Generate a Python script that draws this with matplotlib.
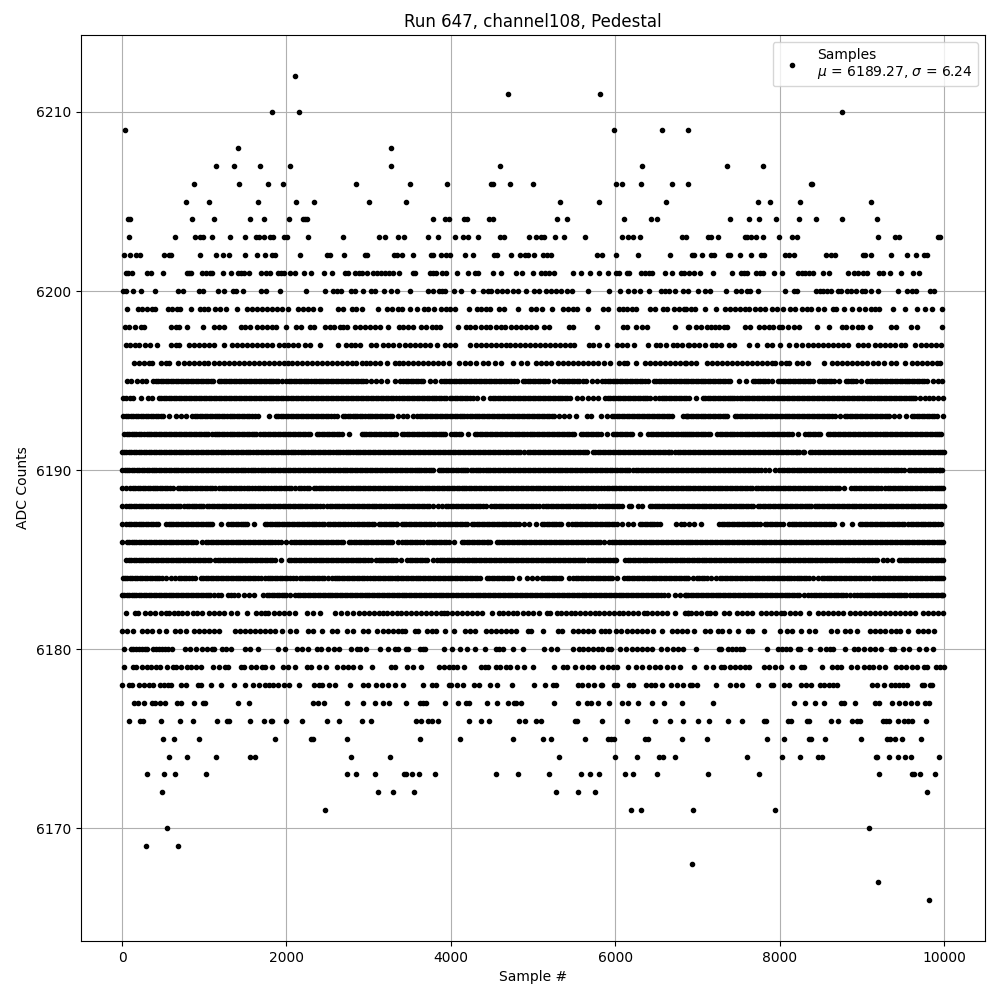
import matplotlib
matplotlib.use("Agg")
import matplotlib.pyplot as plt
import numpy as np

# sample numbers, one list per ADC level
adc_6212 = [2109]
adc_6211 = [4694, 5809]
adc_6210 = [1830, 2157, 8755]
adc_6209 = [36, 5979, 6573, 6888]
adc_6208 = [1406, 3272]
adc_6207 = [1139, 1357, 1673, 2048, 3272, 4597, 6330, 7361, 7797]
adc_6206 = [873, 1418, 1770, 1963, 2848, 3506, 3955, 4488, 4512, 4718, 4997, 6015, 6088, 6318, 6694, 6888, 8379, 8391]
adc_6205 = [776, 1054, 1648, 2121, 2339, 3006, 3458, 5324, 5797, 6621, 7737, 7882, 8246, 9118]
adc_6204 = [77, 101, 848, 1115, 1551, 1721, 2036, 2206, 2230, 2254, 3785, 3930, 3979, 4161, 4197, 4464, 4512, 5288, 5409,
            6112, 6439, 6512, 7397, 7627, 7749, 7955, 8233, 8439, 8755, 9179]
adc_6203 = [85, 642, 885, 945, 982, 1091, 1309, 1491, 1624, 1660, 1721, 1794, 1842, 1976, 2012, 2266, 2691, 3127, 3200, 3353,
            3429, 3724, 3846, 4052, 4149, 4209, 4330, 4597, 4646, 4949, 5033, 5094, 5130, 5264, 5373, 5627, 6088, 6160, 6221, 6306,
            6815, 6863, 7131, 7167, 7252, 7579, 7603, 7652, 7712, 7797, 7991, 8149, 8209, 9203, 9409, 9458, 9930, 9955]
adc_6202 = [24, 97, 170, 218, 509, 570, 594, 945, 1139, 1224, 1297, 1491, 1636, 1733, 1818, 1866, 2169, 2497, 2533, 2703, 2957, 2982,
            3309, 3345, 3401, 3543, 3761, 3785, 3882, 3943, 3991, 4173, 4270, 4524, 4561, 4730, 4839, 4900, 4936, 5009, 5118, 5167, 5215,
            5773, 5845, 6015, 6282, 6670, 6937, 6961, 7058, 7167, 7203, 7373, 7397, 7518, 7652, 7773, 7809, 8064, 8112, 8173, 8561, 8621,
            8670, 9009, 9045, 9106, 9361, 9555, 9664, 9761, 9797]
adc_6201 = [48, 73, 121, 303, 351, 497, 788, 812, 836, 970, 1018, 1067, 1091, 1224, 1321, 1406, 1442, 1479, 1539, 1685, 1745, 1794,
            1891, 1939, 1976, 2048, 2109, 2218, 2303, 2460, 2557, 2715, 2751, 2836, 2885, 2921, 2982, 3054, 3103, 3151, 3200, 3248, 3297,
            3369, 3543, 3567, 3749, 3785, 3821, 3894, 3943, 4076, 4209, 4294, 4330, 4512, 4609, 4791, 4864, 4997, 5094, 5143, 5191, 5252,
            5482, 5579, 5688, 5797, 5906, 6015, 6051, 6148, 6173, 6318, 6367, 6415, 6451, 6609, 6694, 6795, 6840, 6900, 6961, 7034, 7191,
            7421, 7530, 7567, 7603, 7712, 7761, 7797, 7930, 8027, 8221, 8270, 8306, 8355, 8403, 8524, 8597, 8827, 8900, 8949, 9009, 9058,
            9215, 9252, 9348, 9482, 9627, 9700]
adc_6200 = [12, 48, 129, 230, 400, 679, 739, 933, 982, 1164, 1236, 1345, 1382, 1467, 1685, 1745, 1927, 2242, 2472, 2570, 2618, 2666,
            2788, 2836, 2933, 3030, 3078, 3184, 3272, 3345, 3506, 3724, 3785, 3858, 3894, 3930, 4040, 4124, 4270, 4391, 4452, 4488, 4561,
            4621, 4682, 4755, 4815, 4912, 5009, 5070, 5155, 5215, 5276, 5336, 5409, 5470, 5664, 5930, 6064, 6160, 6233, 6306, 6415, 6561,
            6609, 6657, 6730, 6827, 6888, 7009, 7094, 7155, 7349, 7470, 7530, 7603, 7640, 7737, 8064, 8173, 8209, 8439, 8488, 8524, 8573,
            8621, 8706, 8743, 8815, 8864, 8924, 8997, 9045, 9106, 9203, 9445, 9555, 9615, 9664, 9833, 9882]
adc_6199 = [57, 194, 246, 307, 368, 404, 558, 610, 671, 703, 844, 953, 1002, 1042, 1135, 1188, 1269, 1398, 1519, 1580, 1640, 1701, 1761,
            1822, 1883, 1943, 2024, 2145, 2206, 2266, 2327, 2408, 2622, 2691, 2792, 2852, 2921, 3115, 3224, 3285, 3357, 3401, 3502, 3583,
            3672, 3724, 3797, 3886, 3939, 3987, 4048, 4225, 4318, 4371, 4423, 4472, 4585, 4646, 4823, 4977, 5037, 5110, 5227, 5361, 5421,
            5482, 5534, 5664, 5853, 5918, 6048, 6096, 6148, 6201, 6249, 6419, 6484, 6585, 6625, 6714, 6775, 6835, 6856, 6916, 6965, 7098,
            7223, 7341, 7401, 7462, 7514, 7583, 7631, 7696, 7765, 7825, 7906, 7967, 8040, 8128, 8189, 8270, 8330, 8383, 8472, 8537, 8646,
            8686, 8783, 8876, 8961, 9045, 9106, 9159, 9207, 9385, 9522, 9676, 9773, 9858, 9979]
adc_6198 = [32, 85, 154, 226, 267, 590, 650, 691, 792, 986, 1123, 1176, 1236, 1446, 1499, 1559, 1640, 1701, 1761, 1822, 1871, 2000, 2113,
            2174, 2287, 2335, 2468, 2529, 2578, 2650, 2691, 2739, 2832, 2893, 2953, 3014, 3083, 3143, 3236, 3369, 3421, 3482, 3543, 3631,
            3696, 3765, 3825, 3866, 4088, 4181, 4237, 4290, 4371, 4423, 4480, 4553, 4613, 4654, 4734, 4795, 4856, 4916, 4977, 5037, 5138,
            5191, 5433, 5482, 5773, 6096, 6148, 6249, 6330, 6391, 6726, 6888, 6900, 6985, 7038, 7118, 7171, 7219, 7268, 7320, 7365, 7583,
            7644, 7745, 7805, 7866, 7914, 7987, 8027, 8108, 8169, 8237, 8456, 8597, 8763, 8807, 8884, 8949, 9005, 9098, 9353, 9421, 9595,
            9676, 9971]
adc_6197 = [49, 97, 158, 210, 279, 339, 428, 590, 650, 691, 812, 873, 933, 994, 1054, 1115, 1236, 1337, 1398, 1458, 1519, 1580, 1640,
            1701, 1761, 1822, 1911, 1972, 2024, 2085, 2145, 2226, 2287, 2408, 2630, 2723, 2780, 2832, 2893, 3034, 3095, 3175, 3236, 3297,
            3369, 3442, 3502, 3563, 3623, 3684, 3745, 3833, 3926, 3987, 4048, 4237, 4302, 4363, 4423, 4484, 4544, 4605, 4666, 4714, 4783,
            4843, 4908, 4965, 5029, 5090, 5150, 5211, 5272, 5332, 5393, 5449, 5502, 5684, 5732, 5805, 5894, 6027, 6088, 6148, 6229, 6403,
            6492, 6540, 6613, 6702, 6754, 6807, 6888, 6896, 6957, 7017, 7090, 7179, 7231, 7292, 7381, 7442, 7623, 7724, 7846, 7906, 7999,
            8116, 8197, 8278, 8343, 8403, 8464, 8524, 8585, 8646, 8706, 8767, 8835, 8957, 9017, 9078, 9159, 9219, 9280, 9340, 9401, 9482,
            9522, 9643, 9724, 9785, 9845, 9906, 9966]
adc_6196 = [145, 206, 267, 327, 368, 469, 530, 570, 679, 752, 812, 873, 933, 994, 1046, 1123, 1184, 1244, 1305, 1365, 1426, 1487, 1547,
            1608, 1669, 1729, 1790, 1850, 1911, 1972, 2024, 2073, 2133, 2194, 2254, 2315, 2376, 2436, 2497, 2557, 2610, 2670, 2731, 2792,
            2852, 2913, 2965, 3022, 3083, 3143, 3224, 3317, 3369, 3421, 3482, 3543, 3603, 3664, 3724, 3785, 3846, 3906, 3979, 4100, 4169,
            4229, 4302, 4391, 4452, 4532, 4613, 4755, 4856, 4924, 5037, 5098, 5159, 5219, 5300, 5361, 5421, 5482, 5542, 5603, 5664, 5724,
            5785, 5866, 5942, 6048, 6108, 6148, 6249, 6362, 6423, 6484, 6544, 6605, 6666, 6726, 6787, 6847, 6864, 6924, 6985, 7118, 7179,
            7240, 7300, 7361, 7421, 7482, 7543, 7603, 7664, 7724, 7785, 7846, 7906, 7947, 8019, 8076, 8120, 8217, 8278, 8343, 8540, 8633,
            8694, 8755, 8815, 8876, 8936, 8997, 9058, 9138, 9199, 9272, 9361, 9421, 9522, 9611, 9672, 9732, 9793, 9854, 9914, 9946]
adc_6195 = [65, 113, 186, 246, 287, 380, 440, 501, 562, 622, 683, 743, 804, 865, 925, 986, 1046, 1107, 1176, 1236, 1297, 1357, 1418, 1479,
            1539, 1600, 1660, 1721, 1782, 1842, 1903, 1943, 1996, 2057, 2117, 2178, 2238, 2299, 2360, 2420, 2481, 2541, 2602, 2662, 2723,
            2783, 2844, 2905, 2965, 3034, 3095, 3155, 3228, 3317, 3377, 3421, 3482, 3543, 3603, 3664, 3745, 3805, 3886, 3947, 4007, 4068,
            4128, 4189, 4250, 4310, 4371, 4431, 4492, 4553, 4613, 4674, 4734, 4803, 4876, 4936, 4997, 5058, 5118, 5179, 5260, 5320, 5381,
            5441, 5502, 5563, 5643, 5716, 5773, 5845, 5906, 5967, 6027, 6088, 6148, 6209, 6270, 6330, 6403, 6472, 6532, 6593, 6654, 6714,
            6775, 6835, 6856, 6916, 6977, 7038, 7098, 7159, 7219, 7280, 7341, 7401, 7502, 7595, 7672, 7732, 7793, 7854, 7906, 7979, 8040,
            8100, 8161, 8221, 8282, 8343, 8403, 8480, 8540, 8601, 8662, 8726, 8807, 8868, 8928, 8993, 9066, 9126, 9187, 9247, 9308, 9369,
            9429, 9490, 9550, 9611, 9672, 9732, 9789, 9866, 9926, 9979,
            410, 470, 531, 592, 652, 713, 774, 834, 895, 955, 1016, 1076, 1206, 1266, 1327, 1387, 1448, 1509, 1569, 1630, 1690, 1751, 1812, 1872,
            2026, 2087, 2147, 2208, 2268, 2329, 2390, 2450, 2511, 2571, 2632, 2692, 2753, 2813, 2874, 2935, 3452, 3512, 3573, 3633, 3916, 3977,
            4037, 4098, 4158, 4219, 4280, 4340, 4401, 4461, 4522, 4583, 4643, 4704, 4769, 4906, 4966, 5027, 5088, 5148, 5350, 5411, 5471, 5532,
            5603, 5875, 5936, 5997, 6057, 6118, 6178, 6239, 6300, 6366, 6502, 6562, 6623, 6684, 6744, 6805, 6886, 6946, 7007, 7068, 7128, 7189,
            7249, 7310, 7371, 7702, 7762, 7823, 8010, 8070, 8130, 8191, 8251, 8312, 8373, 8510, 8570, 8631, 8837, 8898, 9096, 9156, 9217, 9277,
            9338, 9399, 9459, 9520, 9580, 9641, 9702, 9760]
adc_6194 = [12, 53, 93, 137, 226, 315, 368, 448, 509, 570, 630, 691, 752, 812, 873, 933, 994, 1054, 1115, 1176, 1236, 1297, 1357, 1418,
            1479, 1539, 1600, 1660, 1721, 1782, 1842, 1903, 1963, 2024, 2085, 2145, 2206, 2266, 2327, 2388, 2448, 2509, 2570, 2630, 2691,
            2752, 2812, 2873, 2933, 2994, 3054, 3115, 3176, 3236, 3297, 3337, 3369, 3401, 3462, 3522, 3583, 3644, 3704, 3765, 3825, 3886,
            3939, 3987, 4048, 4108, 4169, 4229, 4270, 4322, 4391, 4480, 4540, 4601, 4662, 4722, 4783, 4843, 4904, 4965, 5025, 5086, 5146,
            5207, 5268, 5328, 5389, 5449, 5530, 5595, 5664, 5732, 5793, 5878, 5938, 5999, 6059, 6120, 6181, 6241, 6302, 6362, 6419, 6484,
            6532, 6593, 6654, 6714, 6775, 6835, 6856, 6896, 6977, 7066, 7126, 7187, 7248, 7308, 7369, 7421, 7482, 7543, 7603, 7664, 7724,
            7785, 7846, 7906, 7967, 8027, 8088, 8149, 8209, 8270, 8330, 8391, 8452, 8512, 8573, 8633, 8694, 8755, 8815, 8876, 8936, 8997,
            9058, 9118, 9179, 9239, 9300, 9361, 9421, 9482, 9542, 9603, 9651, 9704, 9765, 9813, 9866, 9926, 9987,
            478, 539, 600, 660, 721, 782, 842, 903, 963, 1024, 1085, 1145, 1206, 1266, 1327, 1388, 1448, 1509, 1570, 1630, 1691, 1751, 1812, 1873,
            1933, 1994, 2055, 2115, 2176, 2236, 2297, 2358, 2418, 2479, 2540, 2600, 2661, 2722, 2782, 2843, 2903, 2964, 3024, 3085, 3146, 3206,
            3267, 3432, 3492, 3553, 3614, 3674, 3735, 3795, 3856, 3912, 4018, 4078, 4139, 4199, 4510, 4570, 4632, 4692, 4752, 4813, 4873, 4935,
            4995, 5055, 5116, 5176, 5238, 5298, 5358, 5419, 5908, 5968, 6029, 6090, 6150, 6211, 6272, 6332, 6390, 6563, 6623, 6684, 6744, 6805,
            7096, 7156, 7217, 7278, 7338, 7395, 7451, 7512, 7573, 7633, 7694, 7754, 7815, 7876, 7936, 7997, 8057, 8118, 8179, 8239, 8300, 8360,
            8421, 8482, 8542, 8603, 8663, 8724, 8785, 8845, 8906, 8966, 9027, 9088, 9148, 9209, 9269, 9330, 9391, 9451, 9512, 9572, 9627]
adc_6193 = [16, 77, 137, 198, 259, 319, 380, 440, 501, 570, 659, 719, 772, 852, 913, 974, 1034, 1095, 1155, 1216, 1277, 1337, 1398, 1458,
            1519, 1580, 1648, 1786, 1871, 1931, 1992, 2052, 2113, 2174, 2234, 2295, 2355, 2416, 2477, 2537, 2610, 2683, 2743, 2804, 2864,
            2925, 2986, 3046, 3107, 3167, 3228, 3289, 3357, 3413, 3470, 3535, 3591, 3652, 3712, 3773, 3833, 3894, 3955, 4015, 4076, 4136,
            4197, 4258, 4318, 4379, 4439, 4500, 4561, 4621, 4682, 4742, 4803, 4864, 4924, 4985, 5045, 5106, 5167, 5227, 5260, 5320, 5381,
            5441, 5518, 5652, 5704, 5821, 5894, 5958, 6019, 6079, 6140, 6201, 6261, 6322, 6383, 6443, 6504, 6565, 6625, 6694, 6823, 6876,
            6856, 6916, 6977, 7038, 7098, 7159, 7219, 7280, 7341, 7361, 7454, 7514, 7575, 7636, 7696, 7757, 7817, 7878, 7939, 7999, 8060,
            8120, 8181, 8241, 8302, 8363, 8423, 8484, 8545, 8605, 8674, 8734, 8795, 8856, 8916, 8977, 9037, 9098, 9159, 9219, 9280, 9328,
            9393, 9449, 9542, 9611, 9672, 9732, 9793, 9854, 9914, 9987,
            47, 107, 167, 228, 289, 349, 410, 470, 882, 943, 1004, 1064, 1125, 1185, 1246, 1307, 1367, 1428, 1488, 1549, 1614, 1901, 1961, 2022,
            2082, 2143, 2204, 2264, 2325, 2385, 2446, 2507, 2573, 2713, 2773, 2834, 2894, 2955, 3016, 3076, 3137, 3197, 3258, 3621, 3682, 3742,
            3803, 3863, 3924, 3985, 4045, 4106, 4166, 4227, 4288, 4348, 4409, 4469, 4530, 4591, 4651, 4712, 4772, 4833, 4894, 4954, 5015, 5075,
            5136, 5197, 5988, 6049, 6109, 6170, 6231, 6291, 6352, 6413, 6473, 6534, 6595, 6659, 6886, 6946, 7007, 7068, 7128, 7189, 7249, 7310,
            7484, 7544, 7605, 7666, 7726, 7787, 7847, 7908, 7969, 8029, 8090, 8150, 8211, 8271, 8332, 8393, 8453, 8514, 8575, 8639, 8825, 8886,
            8946, 9007, 9067, 9128, 9189, 9249, 9304, 9641, 9702, 9762, 9823, 9884]
adc_6192 = [24, 85, 145, 206, 267, 327, 388, 448, 509, 570, 630, 691, 752, 812, 873, 933, 994, 1042, 1095, 1155, 1216, 1277, 1337, 1398,
            1458, 1519, 1580, 1624, 1681, 1741, 1802, 1862, 1923, 1984, 2044, 2105, 2166, 2226, 2287, 2368, 2428, 2489, 2549, 2610, 2670,
            2755, 2917, 2973, 3034, 3095, 3155, 3216, 3277, 3337, 3401, 3462, 3522, 3583, 3644, 3704, 3765, 3825, 3886, 3926, 4007, 4068,
            4128, 4209, 4290, 4351, 4411, 4472, 4532, 4593, 4654, 4714, 4775, 4835, 4896, 4957, 5017, 5078, 5138, 5199, 5260, 5320, 5381,
            5441, 5502, 5583, 5643, 5704, 5765, 5825, 5894, 5967, 6027, 6088, 6148, 6209, 6298, 6403, 6464, 6524, 6585, 6645, 6706, 6767,
            6827, 6876, 6916, 6977, 7038, 7098, 7159, 7240, 7300, 7361, 7421, 7482, 7543, 7603, 7664, 7724, 7785, 7846, 7906, 7967, 8027,
            8088, 8149, 8221, 8310, 8371, 8431, 8492, 8585, 8646, 8706, 8767, 8827, 8888, 8949, 9009, 9070, 9130, 9191, 9252, 9312, 9373,
            9433, 9494, 9555, 9615, 9676, 9736, 9797, 9858, 9918, 9959,
            55, 115, 175, 236, 297, 357, 418, 478, 539, 600, 660, 721, 782, 842, 903, 963, 1018, 1125, 1185, 1246, 1307, 1367, 1428, 1488, 1549,
            1602, 1711, 1771, 1832, 1892, 1953, 2014, 2074, 2135, 2196, 2256, 2398, 2458, 2519, 2579, 2640, 2945, 3003, 3064, 3125, 3185, 3246,
            3307, 3431, 3492, 3552, 3613, 3674, 3734, 3795, 3855, 3906, 4038, 4098, 4320, 4381, 4441, 4502, 4562, 4623, 4684, 4744, 4805, 4865,
            4926, 4987, 5047, 5108, 5168, 5229, 5290, 5350, 5411, 5471, 5613, 5673, 5734, 5795, 5997, 6057, 6118, 6178, 6433, 6494, 6554, 6615,
            6675, 6736, 6797, 6851, 6896, 6946, 7007, 7068, 7128, 7270, 7330, 7391, 7451, 7512, 7573, 7633, 7694, 7754, 7815, 7876, 7936, 7997,
            8057, 8118, 8340, 8401, 8461, 8615, 8676, 8736, 8797, 8857, 8918, 8979, 9039, 9100, 9160, 9221, 9282, 9342, 9403, 9463, 9524, 9585,
            9645, 9706, 9766, 9827, 9888, 9938]
adc_6191 = [0, 52, 113, 171, 236, 290, 355, 412, 478, 534, 597, 655, 719, 776, 838, 899, 957, 1018, 1079, 1137, 1202, 1258, 1321, 1383,
            1441, 1504, 1562, 1627, 1685, 1746, 1809, 1868, 1930, 1988, 2051, 2109, 2172, 2230, 2293, 2351, 2414, 2472, 2535, 2598, 2656,
            2719, 2777, 2840, 2898, 2961, 3019, 3082, 3140, 3203, 3261, 3324, 3385, 3446, 3507, 3568, 3628, 3689, 3750, 3811, 3872, 3933,
            3994, 4055, 4116, 4177, 4238, 4299, 4360, 4421, 4482, 4543, 4604, 4665, 4726, 4787, 4840, 4886, 4935, 4996, 5057, 5118, 5179,
            5240, 5301, 5362, 5423, 5484, 5545, 5606, 5654, 5724, 5785, 5846, 5907, 5968, 6029, 6090, 6151, 6212, 6273, 6334, 6395, 6456,
            6517, 6578, 6639, 6682, 6730, 6791, 6852, 6913, 6974, 7035, 7096, 7157, 7218, 7279, 7340, 7401, 7462, 7523, 7584, 7645, 7706,
            7767, 7828, 7889, 7950, 8011, 8072, 8133, 8194, 8232, 8285, 8298, 8370, 8431, 8492, 8553, 8614, 8675, 8736, 8797, 8858, 8919,
            8980, 9041, 9102, 9163, 9224, 9285, 9346, 9407, 9468, 9529, 9590, 9651, 9712, 9773, 9834, 9895, 9956, 9995,
            26, 82, 142, 203, 263, 322, 383, 445, 506, 566, 626, 687, 747, 807, 868, 928, 987, 1048, 1108, 1169, 1230, 1290, 1352, 1412, 1472,
            1533, 1594, 1656, 1715, 1777, 1838, 1899, 1959, 2019, 2080, 2140, 2201, 2261, 2322, 2382, 2443, 2503, 2566, 2627, 2687, 2748, 2808,
            2869, 2929, 2990, 3050, 3111, 3171, 3232, 3292, 3354, 3415, 3476, 3537, 3598, 3658, 3719, 3780, 3841, 3902, 3963, 4024, 4085, 4146,
            4207, 4268, 4329, 4390, 4451, 4512, 4573, 4634, 4695, 4756, 4813, 4965, 5026, 5087, 5148, 5209, 5270, 5331, 5392, 5453, 5514, 5575,
            5630, 5754, 5815, 5876, 5937, 5998, 6059, 6120, 6181, 6242, 6303, 6364, 6425, 6486, 6547, 6608, 6660, 6760, 6821, 6882, 6943, 7004,
            7065, 7126, 7187, 7248, 7309, 7370, 7431, 7492, 7553, 7614, 7675, 7736, 7797, 7858, 7919, 7980, 8041, 8102, 8163, 8213, 8400, 8461,
            8522, 8583, 8644, 8705, 8766, 8827, 8888, 8949, 9010, 9071, 9132, 9193, 9254, 9315, 9376, 9437, 9498, 9559, 9620, 9681, 9742, 9803,
            9864, 9925, 9975]
adc_6190 = [3, 58, 121, 176, 239, 297, 358, 416, 479, 535, 598, 654, 717, 775, 838, 896, 959, 1017, 1080, 1138, 1201, 1259, 1322, 1380,
            1443, 1501, 1564, 1622, 1685, 1743, 1806, 1864, 1927, 1985, 2048, 2106, 2169, 2227, 2290, 2348, 2411, 2469, 2532, 2590, 2653,
            2711, 2774, 2832, 2895, 2953, 3016, 3074, 3137, 3195, 3258, 3316, 3379, 3437, 3500, 3558, 3612, 3668, 3729, 3785, 3853, 3910,
            3971, 4029, 4092, 4150, 4198, 4240, 4301, 4359, 4422, 4480, 4543, 4601, 4664, 4722, 4785, 4843, 4906, 4964, 5027, 5085, 5148,
            5206, 5269, 5327, 5390, 5448, 5511, 5569, 5632, 5690, 5753, 5811, 5874, 5932, 5995, 6053, 6116, 6166, 6220, 6283, 6341, 6404,
            6462, 6525, 6583, 6646, 6704, 6767, 6825, 6888, 6946, 7009, 7067, 7130, 7188, 7251, 7309, 7372, 7430, 7493, 7551, 7614, 7672,
            7735, 7770, 7825, 7868, 7947, 7995, 8056, 8114, 8177, 8235, 8298, 8356, 8419, 8477, 8540, 8598, 8661, 8719, 8782, 8840, 8903,
            8961, 9024, 9082, 9145, 9203, 9266, 9324, 9387, 9445, 9508, 9572, 9630, 9693, 9751, 9814, 9872, 9935, 9980,
            30, 90, 148, 208, 268, 327, 387, 447, 507, 566, 626, 686, 746, 806, 867, 927, 988, 1048, 1109, 1170, 1230, 1290, 1351, 1412, 1472,
            1532, 1593, 1653, 1714, 1775, 1835, 1895, 1956, 2016, 2077, 2137, 2198, 2258, 2319, 2380, 2440, 2500, 2561, 2621, 2682, 2742, 2803,
            2863, 2924, 2984, 3045, 3105, 3166, 3226, 3287, 3347, 3408, 3468, 3529, 3585, 3640, 3698, 3757, 3881, 3940, 4000, 4060, 4121, 4174,
            4270, 4330, 4390, 4451, 4511, 4572, 4632, 4693, 4753, 4814, 4874, 4935, 4995, 5056, 5116, 5177, 5237, 5298, 5358, 5419, 5479, 5540,
            5600, 5661, 5721, 5782, 5842, 5903, 5963, 6024, 6084, 6141, 6251, 6312, 6372, 6433, 6493, 6554, 6614, 6675, 6735, 6796, 6856, 6917,
            6977, 7038, 7098, 7159, 7219, 7280, 7340, 7401, 7461, 7522, 7582, 7643, 7703, 8025, 8085, 8145, 8206, 8266, 8327, 8387, 8448, 8508,
            8569, 8629, 8690, 8750, 8811, 8871, 8932, 8992, 9053, 9113, 9174, 9234, 9295, 9355, 9416, 9476, 9601, 9661, 9722, 9782, 9843, 9903,
            9957]
adc_6189 = [0, 50, 100, 130, 190, 250, 310, 370, 430, 490, 550, 620, 675, 735, 795, 855, 915, 975, 1035, 1095, 1130, 1180, 1240, 1300, 1360,
            1420, 1480, 1550, 1585, 1650, 1710, 1775, 1815, 1875, 1935, 1995, 2050, 2100, 2150, 2215, 2280, 2330, 2390, 2450, 2510, 2570,
            2630, 2690, 2750, 2810, 2870, 2930, 2990, 3050, 3110, 3170, 3230, 3290, 3350, 3410, 3470, 3530, 3590, 3650, 3710, 3770, 3830,
            3890, 3950, 4010, 4070, 4130, 4190, 4250, 4310, 4370, 4430, 4490, 4550, 4610, 4670, 4730, 4790, 4850, 4910, 4970, 5030, 5090,
            5150, 5210, 5270, 5330, 5385, 5430, 5490, 5550, 5610, 5670, 5730, 5790, 5830, 5865, 5925, 5985, 6045, 6105, 6165, 6225, 6285,
            6345, 6405, 6465, 6525, 6585, 6645, 6705, 6765, 6825, 6885, 6945, 7005, 7065, 7125, 7185, 7245, 7305, 7365, 7425, 7485, 7545,
            7605, 7665, 7710, 7770, 7830, 7890, 7950, 8010, 8070, 8130, 8190, 8250, 8310, 8370, 8430, 8490, 8515, 8548, 8608, 8668, 8728,
            8778, 8872, 8932, 8992, 9052, 9112, 9172, 9232, 9285, 9345, 9405, 9465, 9525, 9585, 9645, 9705, 9765, 9825, 9885, 9945, 9990,
            160, 220, 280, 340, 400, 460, 520, 585, 705, 765, 825, 885, 945, 1005, 1065, 1210, 1270, 1330, 1390, 1450, 1515, 1620, 1680, 1742,
            1845, 1905, 1965, 2025, 2182, 2248, 2360, 2420, 2480, 2540, 2600, 2660, 2720, 2780, 2840, 2900, 2960, 3020, 3080, 3140, 3200, 3260,
            3320, 3380, 3440, 3500, 3560, 3620, 3680, 3740, 3800, 3860, 3920, 3980, 4040, 4100, 4160, 4220, 4280, 4340, 4400, 4460, 4520, 4580,
            4640, 4700, 4760, 4820, 4880, 4940, 5000, 5060, 5120, 5180, 5240, 5300, 5358, 5460, 5520, 5580, 5640, 5700, 5760, 5895, 5955, 6015,
            6075, 6135, 6195, 6255, 6315, 6375, 6435, 6495, 6555, 6615, 6675, 6735, 6795, 6855, 6915, 6975, 7035, 7095, 7155, 7215, 7275, 7335,
            7395, 7455, 7515, 7575, 7635, 7740, 7800, 7860, 7920, 7980, 8040, 8100, 8160, 8220, 8280, 8340, 8400, 8460, 8578, 8638, 8698, 8902,
            8962, 9022, 9082, 9142, 9202, 9315, 9375, 9435, 9495, 9555, 9615, 9675, 9735, 9795, 9855, 9915, 9968]
adc_6188 = [0, 50, 110, 170, 230, 290, 350, 410, 470, 530, 590, 650, 710, 755, 815, 875, 935, 990, 1030, 1090, 1150, 1210, 1270, 1330, 1390,
            1450, 1510, 1570, 1615, 1655, 1715, 1775, 1835, 1895, 1955, 2015, 2075, 2135, 2195, 2255, 2315, 2375, 2440, 2495, 2555, 2615,
            2675, 2735, 2795, 2855, 2915, 2975, 3035, 3095, 3155, 3215, 3250, 3285, 3345, 3405, 3465, 3525, 3585, 3645, 3705, 3740, 3780,
            3840, 3890, 3940, 4000, 4060, 4120, 4180, 4240, 4300, 4360, 4430, 4490, 4550, 4610, 4670, 4730, 4790, 4850, 4910, 4970, 5030,
            5070, 5125, 5185, 5245, 5305, 5365, 5425, 5483, 5518, 5578, 5638, 5698, 5758, 5798, 5840, 5900, 5960, 6020, 6080, 6162, 6195,
            6275, 6330, 6418, 6478, 6538, 6598, 6658, 6718, 6778, 6838, 6870, 6900, 6960, 7020, 7080, 7140, 7200, 7260, 7320, 7380, 7440,
            7500, 7560, 7620, 7678, 7735, 7795, 7855, 7915, 7975, 8035, 8095, 8155, 8215, 8275, 8335, 8385, 8425, 8485, 8545, 8605, 8665,
            8725, 8785, 8845, 8905, 8965, 9025, 9085, 9145, 9205, 9265, 9325, 9385, 9445, 9505, 9565, 9625, 9678, 9710, 9770, 9830, 9890,
            9950, 9995,
            80, 140, 200, 260, 320, 380, 440, 500, 560, 620, 680, 785, 845, 905, 962, 1060, 1120, 1180, 1240, 1300, 1360, 1420, 1480, 1540, 1592,
            1685, 1745, 1805, 1865, 1925, 1985, 2045, 2105, 2165, 2225, 2285, 2345, 2407, 2525, 2585, 2645, 2705, 2765, 2825, 2885, 2945, 3005,
            3065, 3125, 3185, 3315, 3375, 3435, 3495, 3555, 3615, 3675, 3970, 4030, 4090, 4150, 4210, 4270, 4330, 4395, 4520, 4580, 4640, 4700,
            4760, 4820, 4880, 4940, 5000, 5155, 5215, 5275, 5335, 5395, 5454, 5548, 5608, 5668, 5728, 5870, 5930, 5990, 6050, 6448, 6508, 6568,
            6628, 6688, 6748, 6808, 6930, 6990, 7050, 7110, 7170, 7230, 7290, 7350, 7410, 7470, 7530, 7590, 7650, 7765, 7825, 7885, 7945, 8005,
            8065, 8125, 8185, 8245, 8305, 8360, 8455, 8515, 8575, 8635, 8695, 8755, 8815, 8875, 8935, 8995, 9055, 9115, 9175, 9235, 9295, 9355,
            9415, 9475, 9535, 9595, 9652, 9740, 9800, 9860, 9920, 9972]
adc_6187 = [0, 50, 110, 170, 230, 290, 350, 410, 435, 535, 595, 655, 715, 775, 835, 895, 955, 1015, 1075, 1100, 1208, 1292, 1352, 1412, 1472,
            1525, 1600, 1735, 1795, 1855, 1915, 1975, 2035, 2095, 2155, 2215, 2275, 2335, 2395, 2460, 2503, 2563, 2623, 2683, 2743, 2785,
            2826, 2886, 2946, 3006, 3066, 3122, 3182, 3242, 3302, 3350, 3400, 3460, 3520, 3580, 3640, 3700, 3760, 3800, 3840, 3900, 3960,
            4020, 4080, 4140, 4202, 4257, 4317, 4377, 4437, 4497, 4557, 4617, 4677, 4737, 4797, 4830, 4890, 4950, 5038, 5105, 5165, 5225,
            5285, 5345, 5425, 5480, 5540, 5600, 5660, 5720, 5780, 5840, 5900, 5960, 6020, 6088, 6150, 6222, 6297, 6357, 6417, 6477, 6545,
            6740, 6800, 6840, 6896, 6955, 7046, 7268, 7328, 7388, 7448, 7508, 7568, 7628, 7688, 7758, 7820, 7880, 7940, 8000, 8042, 8115,
            8175, 8235, 8295, 8355, 8415, 8475, 8535, 8595, 8660, 8763, 8876, 8976, 9036, 9096, 9156, 9216, 9276, 9336, 9396, 9456, 9516,
            9565, 9625, 9685, 9745, 9805, 9865, 9925, 9960,
            80, 140, 200, 260, 320, 380, 565, 625, 685, 745, 805, 865, 925, 985, 1045, 1322, 1382, 1442, 1500, 1765, 1825, 1885, 1945, 2005, 2065,
            2125, 2185, 2245, 2305, 2365, 2428, 2533, 2593, 2653, 2713, 2856, 2916, 2976, 3036, 3152, 3212, 3272, 3328, 3430, 3490, 3550, 3610,
            3670, 3730, 3870, 3930, 3990, 4050, 4110, 4170, 4287, 4347, 4407, 4467, 4527, 4587, 4647, 4707, 4767, 5135, 5195, 5255, 5315, 5510,
            5570, 5630, 5690, 5750, 5810, 5870, 5930, 5990, 6327, 6387, 6447, 6510, 7298, 7358, 7418, 7478, 7538, 7598, 7658, 7722, 7850, 7910,
            7970, 8145, 8205, 8265, 8325, 8385, 8445, 8505, 8565, 8628, 9006, 9066, 9126, 9186, 9246, 9306, 9366, 9426, 9486, 9595, 9655, 9715,
            9775, 9835, 9895]
adc_6186 = [0, 55, 115, 175, 235, 295, 355, 415, 475, 535, 595, 655, 715, 775, 835, 868, 900, 968, 1020, 1080, 1140, 1200, 1260, 1320, 1380,
            1440, 1500, 1560, 1620, 1680, 1740, 1800, 1860, 1898, 1937, 2000, 2060, 2090, 2150, 2210, 2270, 2330, 2390, 2450, 2510, 2570,
            2630, 2685, 2758, 2818, 2878, 2938, 2998, 3058, 3118, 3178, 3238, 3284, 3357, 3410, 3470, 3530, 3590, 3657, 3705, 3765, 3825,
            3885, 3945, 3980, 4040, 4135, 4195, 4255, 4315, 4375, 4435, 4475, 4560, 4620, 4680, 4740, 4800, 4860, 4920, 4980, 5040, 5100,
            5160, 5220, 5280, 5340, 5400, 5460, 5520, 5580, 5640, 5700, 5760, 5820, 5860, 5925, 5985, 6045, 6105, 6165, 6225, 6285, 6345,
            6405, 6465, 6525, 6585, 6645, 6705, 6765, 6825, 6880, 6940, 7000, 7060, 7120, 7180, 7240, 7300, 7360, 7420, 7480, 7540, 7600,
            7660, 7720, 7780, 7840, 7900, 7960, 8020, 8080, 8140, 8200, 8260, 8320, 8380, 8440, 8500, 8560, 8620, 8680, 8740, 8800, 8860,
            8920, 8980, 9040, 9100, 9160, 9220, 9280, 9340, 9400, 9460, 9520, 9580, 9640, 9700, 9760, 9820, 9880, 9940, 9982,
            85, 145, 205, 265, 325, 385, 445, 505, 565, 625, 685, 745, 805, 1050, 1110, 1170, 1230, 1290, 1350, 1410, 1470, 1530, 1590, 1650, 1710,
            1770, 1830, 2120, 2180, 2240, 2300, 2360, 2420, 2480, 2540, 2600, 2658, 2788, 2848, 2908, 2968, 3028, 3088, 3148, 3208, 3262, 3440,
            3500, 3560, 3625, 3735, 3795, 3855, 3915, 4165, 4225, 4285, 4345, 4405, 4456, 4590, 4650, 4710, 4770, 4830, 4890, 4950, 5010, 5070,
            5130, 5190, 5250, 5310, 5370, 5430, 5490, 5550, 5610, 5670, 5730, 5790, 5955, 6015, 6075, 6135, 6195, 6255, 6315, 6375, 6435, 6495,
            6555, 6615, 6675, 6735, 6795, 6855, 6910, 6970, 7030, 7090, 7150, 7210, 7270, 7330, 7390, 7450, 7510, 7570, 7630, 7690, 7750, 7810,
            7870, 7930, 7990, 8050, 8110, 8170, 8230, 8290, 8350, 8410, 8470, 8530, 8590, 8650, 8710, 8770, 8830, 8890, 8950, 9010, 9070, 9130,
            9190, 9250, 9310, 9370, 9430, 9490, 9550, 9610, 9670, 9730, 9790, 9850, 9910, 9960]
adc_6185 = [50, 110, 170, 230, 290, 350, 410, 470, 530, 590, 650, 710, 770, 830, 890, 950, 1010, 1070, 1135, 1195, 1255, 1315, 1375, 1435,
            1495, 1555, 1615, 1675, 1735, 1795, 1865, 1931, 2030, 2090, 2150, 2210, 2270, 2330, 2390, 2450, 2510, 2570, 2630, 2690, 2750,
            2810, 2870, 2930, 2990, 3028, 3090, 3150, 3210, 3270, 3330, 3395, 3470, 3530, 3590, 3650, 3710, 3780, 3832, 3892, 3952, 4012,
            4072, 4132, 4192, 4252, 4312, 4372, 4432, 4492, 4552, 4612, 4672, 4732, 4792, 4852, 4912, 4972, 5032, 5092, 5152, 5212, 5272,
            5332, 5392, 5452, 5512, 5572, 5615, 5670, 5730, 5790, 5850, 5910, 5970, 6012, 6122, 6182, 6242, 6302, 6362, 6422, 6482, 6542,
            6602, 6662, 6722, 6782, 6842, 6900, 6960, 7020, 7080, 7140, 7200, 7260, 7320, 7380, 7440, 7500, 7560, 7620, 7680, 7740, 7800,
            7860, 7920, 7980, 8040, 8100, 8160, 8220, 8280, 8340, 8400, 8460, 8520, 8580, 8640, 8700, 8760, 8820, 8880, 8940, 9000, 9060,
            9120, 9190, 9262, 9305, 9373, 9448, 9508, 9568, 9628, 9688, 9748, 9808, 9868, 9928, 9988,
            80, 140, 200, 260, 320, 380, 440, 500, 560, 620, 680, 740, 800, 860, 920, 980, 1040, 1165, 1225, 1285, 1345, 1405, 1465, 1525, 1585,
            1645, 1705, 1765, 1830, 2060, 2120, 2180, 2240, 2300, 2360, 2420, 2480, 2540, 2600, 2660, 2720, 2780, 2840, 2900, 2960, 3120, 3180,
            3240, 3300, 3500, 3560, 3620, 3680, 3862, 3922, 3982, 4042, 4102, 4162, 4222, 4282, 4342, 4402, 4462, 4522, 4582, 4642, 4702, 4762,
            4822, 4882, 4942, 5002, 5062, 5122, 5182, 5242, 5302, 5362, 5422, 5482, 5542, 5595, 5700, 5760, 5820, 5880, 5940, 5992, 6152, 6212,
            6272, 6332, 6392, 6452, 6512, 6572, 6632, 6692, 6752, 6812, 6870, 6930, 6990, 7050, 7110, 7170, 7230, 7290, 7350, 7410, 7470, 7530,
            7590, 7650, 7710, 7770, 7830, 7890, 7950, 8010, 8070, 8130, 8190, 8250, 8310, 8370, 8430, 8490, 8550, 8610, 8670, 8730, 8790, 8850,
            8910, 8970, 9030, 9090, 9155, 9478, 9538, 9598, 9658, 9718, 9778, 9838, 9898, 9958]
adc_6184 = [5, 65, 125, 185, 245, 305, 365, 425, 482, 535, 590, 645, 690, 750, 810, 885, 960, 1020, 1080, 1140, 1200, 1260, 1320, 1380, 1440,
            1500, 1560, 1620, 1695, 1740, 1800, 1860, 1920, 1980, 2040, 2118, 2160, 2220, 2280, 2340, 2400, 2460, 2502, 2555, 2615, 2675,
            2735, 2795, 2855, 2915, 2975, 3047, 3080, 3140, 3200, 3260, 3320, 3362, 3420, 3480, 3540, 3600, 3660, 3720, 3780, 3840, 3900,
            3960, 4020, 4080, 4140, 4200, 4260, 4320, 4352, 4438, 4498, 4558, 4618, 4678, 4748, 4827, 4923, 4983, 5050, 5105, 5165, 5225,
            5285, 5345, 5442, 5490, 5550, 5610, 5670, 5730, 5790, 5850, 5910, 5960, 6027, 6112, 6172, 6232, 6292, 6352, 6412, 6472, 6532,
            6592, 6652, 6712, 6772, 6832, 6880, 6950, 6992, 7052, 7112, 7224, 7275, 7335, 7395, 7455, 7515, 7575, 7635, 7695, 7755, 7815,
            7875, 7935, 7995, 8055, 8115, 8142, 8176, 8236, 8296, 8356, 8465, 8511, 8571, 8631, 8691, 8751, 8811, 8871, 8931, 8991, 9051,
            9131, 9165, 9225, 9285, 9345, 9405, 9465, 9525, 9585, 9645, 9705, 9765, 9825, 9885, 9945, 9990,
            35, 95, 155, 215, 275, 335, 395, 455, 720, 780, 847, 990, 1050, 1110, 1170, 1230, 1290, 1350, 1410, 1470, 1530, 1590, 1657, 1770, 1830,
            1890, 1950, 2010, 2080, 2190, 2250, 2310, 2370, 2430, 2585, 2645, 2705, 2765, 2825, 2885, 2945, 3012, 3110, 3170, 3230, 3290, 3345,
            3392, 3450, 3510, 3570, 3630, 3690, 3750, 3810, 3870, 3930, 3990, 4050, 4110, 4170, 4230, 4290, 4468, 4528, 4588, 4648, 4713, 5135,
            5195, 5255, 5315, 5520, 5580, 5640, 5700, 5760, 5820, 5880, 5935, 6142, 6202, 6262, 6322, 6382, 6442, 6502, 6562, 6622, 6682, 6742,
            6802, 6856, 7022, 7082, 7168, 7305, 7365, 7425, 7485, 7545, 7605, 7665, 7725, 7785, 7845, 7905, 7965, 8025, 8085, 8206, 8266, 8326,
            8410, 8541, 8601, 8661, 8721, 8781, 8841, 8901, 8961, 9021, 9091, 9195, 9255, 9315, 9375, 9435, 9495, 9555, 9615, 9675, 9735, 9795,
            9855, 9915, 9968]
adc_6183 = [0, 55, 115, 175, 235, 295, 355, 415, 475, 535, 595, 655, 715, 775, 835, 895, 955, 1015, 1075, 1170, 1203, 1290, 1322, 1365, 1412,
            1480, 1545, 1605, 1715, 1760, 1820, 1880, 1940, 2000, 2098, 2140, 2200, 2260, 2320, 2380, 2440, 2500, 2560, 2620, 2680, 2740,
            2800, 2860, 2920, 2980, 3040, 3100, 3160, 3220, 3280, 3340, 3400, 3460, 3520, 3580, 3640, 3700, 3760, 3820, 3880, 3940, 4000,
            4060, 4120, 4180, 4240, 4300, 4360, 4420, 4480, 4540, 4600, 4660, 4720, 4780, 4840, 4900, 4960, 5020, 5080, 5140, 5200, 5260,
            5320, 5380, 5440, 5500, 5560, 5620, 5680, 5740, 5800, 5860, 5920, 5980, 6040, 6100, 6160, 6220, 6280, 6340, 6400, 6460, 6520,
            6595, 6645, 6732, 6792, 6852, 6860, 6920, 6980, 7040, 7100, 7160, 7220, 7280, 7340, 7400, 7460, 7520, 7580, 7640, 7700, 7760,
            7820, 7880, 7940, 8000, 8060, 8120, 8180, 8240, 8344, 8386, 8446, 8506, 8566, 8626, 8686, 8746, 8806, 8909, 8943, 9003, 9063,
            9123, 9183, 9243, 9303, 9363, 9423, 9483, 9543, 9620, 9658, 9718, 9778, 9838, 9898, 9958, 9985,
            28, 85, 145, 205, 265, 325, 385, 445, 505, 565, 625, 685, 745, 805, 865, 925, 985, 1045, 1122, 1790, 1850, 1910, 1970, 2049, 2170, 2230,
            2290, 2350, 2410, 2470, 2530, 2590, 2650, 2710, 2770, 2830, 2890, 2950, 3010, 3070, 3130, 3190, 3250, 3310, 3370, 3430, 3490, 3550,
            3610, 3670, 3730, 3790, 3850, 3910, 3970, 4030, 4090, 4150, 4210, 4270, 4330, 4390, 4450, 4510, 4570, 4630, 4690, 4750, 4810, 4870,
            4930, 4990, 5050, 5110, 5170, 5230, 5290, 5350, 5410, 5470, 5530, 5590, 5650, 5710, 5770, 5830, 5890, 5950, 6010, 6070, 6130, 6190,
            6250, 6310, 6370, 6430, 6490, 6557, 6890, 6950, 7010, 7070, 7130, 7190, 7250, 7310, 7370, 7430, 7490, 7550, 7610, 7670, 7730, 7790,
            7850, 7910, 7970, 8030, 8090, 8150, 8210, 8292, 8416, 8476, 8536, 8596, 8656, 8716, 8776, 8857, 8973, 9033, 9093, 9153, 9213, 9273,
            9333, 9393, 9453, 9513, 9581, 9688, 9748, 9808, 9868, 9928, 9970]
adc_6182 = [44, 154, 194, 280, 340, 400, 470, 535, 575, 635, 685, 730, 790, 867, 910, 970, 1060, 1120, 1180, 1240, 1330, 1398, 1519, 1625,
            1685, 1735, 1770, 1850, 1910, 1970, 2030, 2098, 2252, 2320, 2410, 2590, 2658, 2739, 2812, 2880, 2940, 3000, 3060, 3120, 3180,
            3222, 3282, 3342, 3395, 3455, 3515, 3575, 3635, 3695, 3755, 3815, 3875, 3920, 3953, 4013, 4073, 4133, 4202, 4257, 4317, 4385,
            4504, 4580, 4640, 4700, 4760, 4810, 4876, 4944, 5004, 5072, 5166, 5212, 5287, 5345, 5396, 5456, 5516, 5576, 5636, 5696, 5756,
            5806, 5860, 5920, 5980, 6040, 6090, 6160, 6216, 6276, 6344, 6386, 6446, 6506, 6566, 6626, 6727, 6854, 6880, 6888, 6916, 6977,
            7038, 7118, 7159, 7219, 7328, 7389, 7486, 7543, 7603, 7664, 7773, 7833, 7894, 7955, 8015, 8056, 8128, 8189, 8249, 8363, 8464,
            8532, 8593, 8654, 8714, 8775, 8856, 8916, 8977, 9037, 9098, 9159, 9219, 9280, 9340, 9401, 9462, 9522, 9583, 9643, 9744, 9805,
            9866, 9926, 9987]
adc_6181 = [4, 65, 129, 246, 307, 368, 448, 537, 638, 703, 772, 873, 933, 994, 1054, 1115, 1176, 1378, 1438, 1499, 1559, 1620, 1681, 1741,
            1802, 1862, 1951, 2044, 2117, 2266, 2327, 2428, 2549, 2610, 2739, 2812, 2933, 2994, 3103, 3175, 3236, 3297, 3357, 3401, 3442,
            3563, 3603, 3704, 3765, 3825, 3930, 4040, 4169, 4229, 4290, 4423, 4484, 4544, 4605, 4666, 4726, 4791, 4936, 4977, 5118, 5300,
            5352, 5482, 5542, 5603, 5664, 5724, 5825, 5878, 5926, 6015, 6067, 6148, 6209, 6270, 6330, 6391, 6459, 6573, 6694, 6754, 6815,
            6876, 6957, 7098, 7147, 7252, 7300, 7381, 7494, 7615, 7664, 7809, 8007, 8088, 8149, 8258, 8363, 8431, 8625, 8694, 8795, 8856,
            8936, 9098, 9159, 9219, 9288, 9361, 9421, 9462, 9562, 9684, 9745, 9805, 9878]
adc_6180 = [24, 109, 133, 170, 206, 242, 279, 303, 376, 412, 448, 485, 521, 557, 606, 764, 824, 897, 970, 1030, 1091, 1123, 1212, 1260, 1321,
            1491, 1551, 1648, 1903, 1988, 2133, 2194, 2266, 2376, 2424, 2509, 2582, 2642, 2788, 2860, 2897, 2973, 3143, 3236, 3321, 3357,
            3450, 3480, 3627, 3664, 3688, 3918, 4015, 4112, 4197, 4294, 4411, 4549, 4585, 4633, 4755, 4876, 5130, 5215, 5288, 5482, 5555,
            5603, 5664, 5724, 5785, 5845, 5906, 5954, 6064, 6136, 6209, 6270, 6330, 6391, 6451, 6561, 6633, 6706, 6767, 6827, 6985, 7264,
            7288, 7373, 7421, 7470, 7518, 7555, 7846, 7979, 8027, 8076, 8124, 8221, 8246, 8367, 8488, 8561, 8609, 8646, 8791, 8900, 8949,
            9021, 9094, 9155, 9239, 9361, 9397, 9506, 9579, 9700, 9785, 9870]
adc_6179 = [24, 133, 170, 242, 303, 351, 412, 460, 545, 618, 654, 715, 788, 836, 897, 958, 1103, 1176, 1248, 1285, 1442, 1479, 1563, 1624, 1697,
            1733, 1830, 1963, 2024, 2109, 2246, 2303, 2400, 2485, 2618, 2691, 2751, 2812, 2893, 3042, 3276, 3321, 3470, 3543, 3640, 3858,
            3918, 3979, 4027, 4076, 4161, 4367, 4415, 4452, 4549, 4597, 4670, 4718, 4803, 4888, 4997, 5252, 5361, 5409, 5506, 5591, 5664,
            5724, 5845, 5906, 5967, 6027, 6160, 6258, 6330, 6415, 6488, 6548, 6633, 6706, 6791, 6961, 7106, 7191, 7288, 7324, 7397, 7458,
            7518, 7579, 7631, 7809, 7870, 7943, 8015, 8149, 8258, 8294, 8512, 8633, 8694, 8743, 8864, 8936, 9021, 9082, 9142, 9215, 9288,
            9421, 9482, 9542, 9615, 9676, 9761, 9797, 9906, 9955, 9999]
adc_6178 = [0, 85, 121, 206, 267, 327, 376, 460, 509, 557, 594, 715, 776, 921, 958, 1079, 1200, 1357, 1491, 1588, 1660, 1733, 1782, 1842, 1891,
            1976, 2036, 2153, 2339, 2400, 2436, 2521, 2594, 2775, 2933, 2994, 3091, 3167, 3236, 3321, 3421, 3664, 3773, 3821, 3979, 4003,
            4076, 4149, 4282, 4342, 4476, 4561, 4742, 5009, 5143, 5239, 5276, 5542, 5591, 5664, 5736, 5821, 5845, 5991, 6027, 6173, 6221,
            6379, 6439, 6488, 6573, 6682, 6754, 6827, 6912, 6937, 6997, 7223, 7397, 7470, 7543, 7737, 7894, 7918, 8052, 8112, 8258, 8318,
            8379, 8488, 8537, 8597, 8646, 8698, 9130, 9179, 9276, 9361, 9409, 9458, 9506, 9555, 9736, 9761, 9833, 9857]
adc_6177 = [145, 194, 267, 364, 400, 460, 521, 667, 715, 873, 982, 1006, 1406, 1539, 2327, 2388, 2460, 2739, 2933, 3078, 3175, 3248, 3458, 3627,
            3664, 3700, 3930, 4088, 4185, 4221, 4439, 4561, 4694, 4767, 4791, 4852, 5252, 5542, 5652, 5700, 5785, 5930, 6088, 6160, 6282,
            6451, 6597, 6815, 7191, 8169, 8306, 8427, 8540, 8743, 8779, 8912, 9155, 9215, 9373, 9458, 9530, 9603, 9676, 9773, 9821]
adc_6176 = [85, 218, 255, 473, 703, 861, 1151, 1273, 1297, 1551, 1721, 1806, 1830, 2000, 2194, 2497, 2642, 2921, 3034, 3579, 3640, 3724, 3773,
            3846, 4221, 4367, 4464, 4827, 4900, 5033, 5094, 5506, 5530, 5845, 6148, 6488, 6670, 6827, 7009, 7143, 7373, 7543, 7809, 7834,
            8100, 8136, 8331, 8355, 8621, 8706, 8876, 8936, 8973, 9252, 9300, 9336, 9445, 9518, 9567, 9615, 9785]
adc_6175 = [497, 630, 933, 1866, 2303, 2327, 2739, 3627, 4112, 4755, 5118, 5215, 5627, 5918, 5954, 5991, 6367, 6403, 6815, 7118, 7846, 8052,
            8355, 8379, 8549, 8985, 9312, 9348, 9409, 9494, 9724]
adc_6174 = [570, 788, 1139, 1551, 1612, 2788, 3260, 5312, 6003, 6270, 6536, 6585, 6730, 7603, 8027, 8246, 8464, 8512, 9167, 9191, 9336, 9445,
            9530, 9603, 9942]
adc_6173 = [303, 509, 642, 1018, 2739, 2848, 3078, 3434, 3458, 3530, 3615, 3809, 4549, 4815, 5191, 5579, 5688, 5797, 6124, 6221, 6512, 7131,
            7749, 9215, 9615, 9640, 9712, 9894]
adc_6172 = [485, 3115, 3297, 3555, 5276, 5542, 5748, 9797]
adc_6171 = [2472, 6197, 6318, 6949, 7943]
adc_6170 = [545, 9082]
adc_6169 = [291, 679]
adc_6168 = [6937]
adc_6167 = [9203]
adc_6166 = [9821]

rows = {
    6212: adc_6212, 6211: adc_6211, 6210: adc_6210, 6209: adc_6209, 6208: adc_6208, 6207: adc_6207, 6206: adc_6206,
    6205: adc_6205, 6204: adc_6204, 6203: adc_6203, 6202: adc_6202, 6201: adc_6201, 6200: adc_6200, 6199: adc_6199,
    6198: adc_6198, 6197: adc_6197, 6196: adc_6196, 6195: adc_6195, 6194: adc_6194, 6193: adc_6193, 6192: adc_6192,
    6191: adc_6191, 6190: adc_6190, 6189: adc_6189, 6188: adc_6188, 6187: adc_6187, 6186: adc_6186, 6185: adc_6185,
    6184: adc_6184, 6183: adc_6183, 6182: adc_6182, 6181: adc_6181, 6180: adc_6180, 6179: adc_6179, 6178: adc_6178,
    6177: adc_6177, 6176: adc_6176, 6175: adc_6175, 6174: adc_6174, 6173: adc_6173, 6172: adc_6172, 6171: adc_6171,
    6170: adc_6170, 6169: adc_6169, 6168: adc_6168, 6167: adc_6167, 6166: adc_6166,
}

samples = np.concatenate([np.array(v) for v in rows.values()])
counts = np.concatenate([np.full(len(v), k) for k, v in rows.items()])

fig, ax = plt.subplots(figsize=(10, 10), dpi=100)
ax.plot(samples, counts, 'k.', label='Samples\n$\\mu$ = 6189.27, $\\sigma$ = 6.24')
ax.set_title('Run 647, channel108, Pedestal')
ax.set_xlabel('Sample #')
ax.set_ylabel('ADC Counts')
ax.grid(True)
ax.legend(loc='upper right')
fig.subplots_adjust(left=0.081, right=0.985, top=0.965, bottom=0.059)
plt.savefig('out.png')
